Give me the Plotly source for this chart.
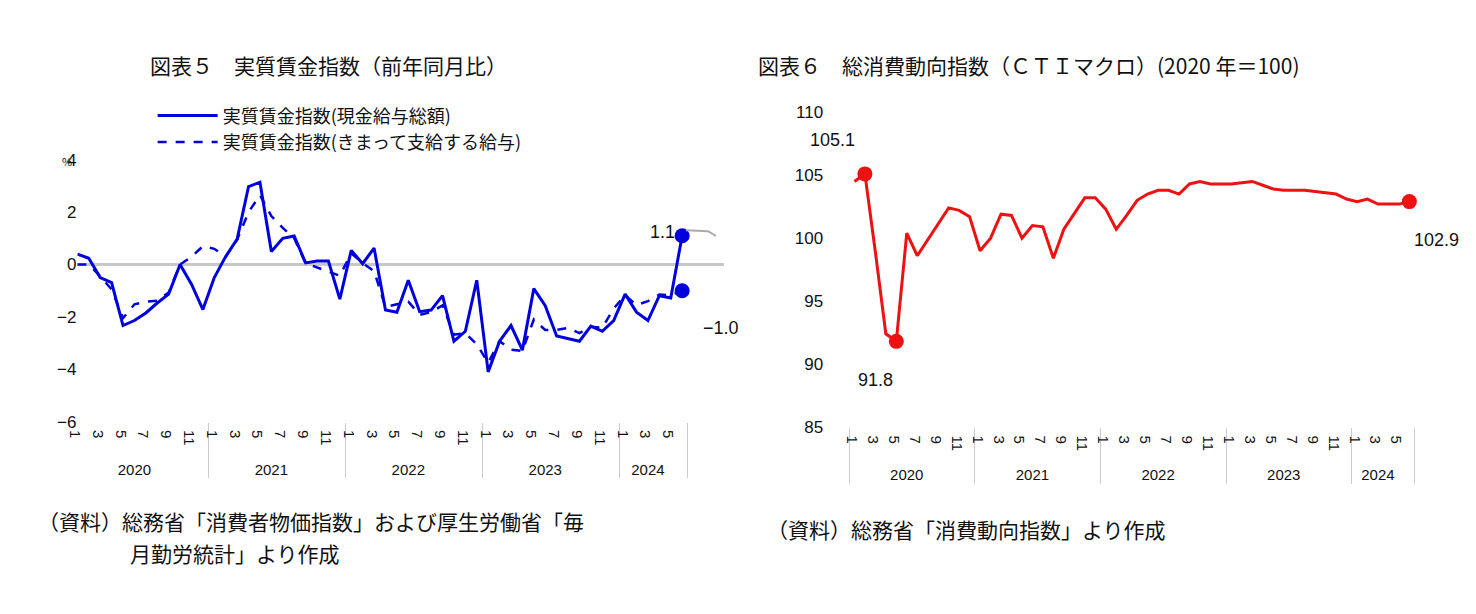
import plotly.graph_objects as go

years = ["2020"]*12 + ["2021"]*12 + ["2022"]*12 + ["2023"]*12 + ["2024"]*6
months = [str(m) for m in range(1, 13)]*4 + [str(m) for m in range(1, 7)]

wage_total = [0.40, 0.24, -0.50, -0.69, -2.33, -2.14, -1.85, -1.47, -1.13, 0.0, -0.75, -1.72,
              -0.5, 0.31, 0.97, 2.98, 3.14, 0.5, 1.0, 1.09, 0.06, 0.13, 0.13, -1.32,
              0.54, 0.03, 0.63, -1.74, -1.82, -0.6, -1.8, -1.74, -1.19, -2.93, -2.55, -0.6,
              -4.1, -2.93, -2.33, -3.27, -0.92, -1.57, -2.73, -2.83, -2.93, -2.35, -2.55, -2.14,
              -1.13, -1.82, -2.14, -1.19, -1.28, 1.1]
wage_regular = [0.0, 0.0, -0.45, -0.95, -2.05, -1.52, -1.42, -1.38, -1.07, 0.0, 0.3, 0.7,
                0.6, 0.3, 0.95, 2.0, 2.65, 1.85, 1.4, 1.0, 0.05, -0.1, -0.25, -0.43,
                0.43, 0.05, -0.25, -1.62, -1.52, -1.42, -1.92, -1.82, -1.56, -2.68, -2.62, -3.05,
                -3.75, -2.93, -3.25, -3.3, -2.1, -2.5, -2.5, -2.42, -2.62, -2.38, -2.42, -1.68,
                -1.17, -1.55, -1.4, -1.15, -1.17, -1.0]
cti = [104.5, 105.1, 98.9, 92.4, 91.8, 100.4, 98.6, 99.9, 101.2, 102.4, 102.2, 101.7,
       99.0, 100.0, 101.9, 101.8, 100.0, 101.0, 100.9, 98.4, 100.7, 101.9, 103.2, 103.2,
       102.3, 100.7, 101.8, 103.0, 103.5, 103.8, 103.8, 103.5, 104.3, 104.5, 104.3, 104.3,
       104.3, 104.4, 104.5, 104.2, 103.9, 103.8, 103.8, 103.8, 103.7, 103.6, 103.5, 103.1,
       102.9, 103.1, 102.7, 102.7, 102.7, 102.9]

F = "Noto Sans CJK JP"
BLUE = "#0000dd"
RED = "#ee1111"
x = [years, months]

fig = go.Figure()
fig.add_trace(go.Scatter(x=x, y=wage_total, mode="lines", line=dict(color=BLUE, width=3),
                         name="実質賃金指数(現金給与総額)", xaxis="x", yaxis="y"))
fig.add_trace(go.Scatter(x=x, y=wage_regular, mode="lines", line=dict(color=BLUE, width=2.5, dash="dash"),
                         name="実質賃金指数(きまって支給する給与)", xaxis="x", yaxis="y"))
fig.add_trace(go.Scatter(x=[[years[-1]]*2, [months[-1]]*2], y=[wage_total[-1], wage_regular[-1]],
                         mode="markers", marker=dict(color=BLUE, size=15), showlegend=False,
                         xaxis="x", yaxis="y"))
fig.add_trace(go.Scatter(x=x, y=cti, mode="lines", line=dict(color=RED, width=3),
                         showlegend=False, xaxis="x2", yaxis="y2"))
idx = [1, 4, 53]
fig.add_trace(go.Scatter(x=[[years[i] for i in idx], [months[i] for i in idx]], y=[cti[i] for i in idx],
                         mode="markers", marker=dict(color=RED, size=15), showlegend=False,
                         xaxis="x2", yaxis="y2"))

xa = dict(type="multicategory", showline=False, ticks="", showdividers=True,
          dividercolor="#cccccc", dividerwidth=1, tickfont=dict(family="Liberation Sans Narrow, Liberation Sans", size=15, color="#111"),
          showgrid=False, zeroline=False)
fig.update_layout(
    width=1476, height=614, margin=dict(l=0, r=0, t=0, b=0),
    paper_bgcolor="white", plot_bgcolor="white",
    font=dict(family=F, color="#111"),
    xaxis=dict(domain=[0.047, 0.485], anchor="y", **xa),
    yaxis=dict(domain=[0.32, 0.76], range=[-6, 4], tickvals=[-6, -4, -2, 0, 2, 4],
               ticktext=["−6", "−4", "−2", "0", "2", "4"], showgrid=False,
               zeroline=True, zerolinecolor="#c8c8c8", zerolinewidth=2.5,
               tickfont=dict(family="Liberation Sans", size=17), anchor="x"),
    xaxis2=dict(domain=[0.553, 0.977], anchor="y2", **xa),
    yaxis2=dict(domain=[0.311, 0.84], range=[85, 110], dtick=5, showgrid=False, zeroline=False,
                tickfont=dict(family="Liberation Sans", size=17), anchor="x2"),
    legend=dict(x=0.098, y=0.865, xanchor="left", yanchor="top", bgcolor="rgba(0,0,0,0)",
                font=dict(family=F, size=18), tracegroupgap=0, itemwidth=60),
)

def ann(t, xx, yy, size=18, xanchor="left", fam=F):
    fig.add_annotation(text=t, x=xx, y=yy, xref="paper", yref="paper", showarrow=False,
                       xanchor=xanchor, yanchor="middle", font=dict(family=fam, size=size, color="#111"))

ann("図表５　実質賃金指数（前年同月比）", 140/1476, 1-50/614, 21)
ann("図表６　総消費動向指数（ＣＴＩマクロ）(2020 年＝100)", 748/1476, 1-50/614, 21)
ann("%", 52/1476, 1-149/614, 11)
ann("1.1", 640/1476, 1-222/614, 18, fam="Liberation Sans")
ann("−1.0", 693/1476, 1-321/614, 18, fam="Liberation Sans")
ann("105.1", 800/1476, 1-127/614, 18, fam="Liberation Sans")
ann("91.8", 848/1476, 1-375/614, 18, fam="Liberation Sans")
ann("102.9", 1404/1476, 1-230/614, 18, fam="Liberation Sans")
ann("（資料）総務省「消費者物価指数」および厚生労働省「毎", 28/1476, 1-520/614, 21)
ann("月勤労統計」より作成", 120/1476, 1-553/614, 21)
ann("（資料）総務省「消費動向指数」より作成", 757/1476, 1-528/614, 21)
fig.add_shape(type="line", x0=678/1476, x1=700/1476, y0=1-220/614, y1=1-221/614,
              xref="paper", yref="paper", line=dict(color="#aaaaaa", width=2))
fig.add_shape(type="line", x0=700/1476, x1=708/1476, y0=1-221/614, y1=1-226/614,
              xref="paper", yref="paper", line=dict(color="#aaaaaa", width=2))

fig.write_html("out.html")
